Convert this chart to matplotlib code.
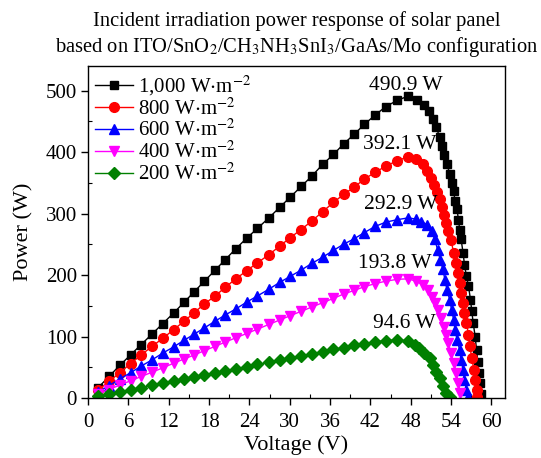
import matplotlib
matplotlib.use("Agg")
import matplotlib.pyplot as plt
from matplotlib.ticker import MultipleLocator

plt.rcParams['font.family'] = ['Liberation Serif', 'DejaVu Serif']
plt.rcParams['mathtext.fontset'] = 'stix'

# === Data ===
# shared voltage grid for the rising part of every curve (V)
v_rise = [1.5, 3.1, 4.7, 6.3, 7.9, 9.5, 11.1, 12.7, 14.3, 15.8, 17.3, 18.9, 20.4, 22.0, 23.6,
          25.2, 26.9, 28.5, 30.1, 31.7, 33.3, 34.9, 36.5, 38.0, 39.6, 41.1, 42.7, 44.3, 46.0, 47.6]

p1000_rise = [17, 35, 53, 70, 87, 104, 121, 138, 156, 173, 190, 208, 225, 243, 260,
              276, 293, 310, 327, 344, 361, 380, 396, 413, 429, 445, 460, 474, 484, 490.9]
v1000_fall = [48.9, 50.0, 50.7, 51.3, 51.8, 52.3, 52.6, 53.0, 53.4, 53.8, 54.1, 54.4, 54.6, 54.9, 55.1,
              55.3, 55.5, 55.8, 56.0, 56.3, 56.6, 56.9, 57.1, 57.3, 57.6, 57.8, 58.0, 58.1, 58.3, 58.4]
p1000_fall = [485, 477, 467, 453, 440, 425, 410, 395, 380, 365, 350, 336, 320, 307, 290,
              274, 258, 236, 217, 198, 182, 160, 141, 122, 100, 78, 59, 40, 24, 6]

p800_rise = [13, 27, 41, 56, 70, 84, 97, 111, 125, 139, 153, 166, 180, 194, 207,
             220, 233, 247, 261, 274, 288, 303, 318, 331, 343, 356, 367, 377, 386, 392.1]
v800_fall = [48.8, 49.8, 50.5, 51.0, 51.5, 51.9, 52.3, 52.6, 52.9, 53.3, 53.6, 54.0, 54.4, 54.8,
             55.0, 55.3, 55.5, 55.8, 56.0, 56.3, 56.6, 56.8, 57.1, 57.4, 57.6, 57.8, 57.9]
p800_fall = [388, 380, 369, 358, 347, 335, 323, 310, 297, 285, 271, 257, 236, 220,
             203, 187, 171, 155, 138, 122, 103, 84, 65, 46, 29, 13, 2]

p600_rise = [10, 20, 31, 41, 52, 62, 73, 83, 94, 104, 114, 125, 135, 145, 156,
             166, 177, 188, 198, 208, 219, 229, 240, 250, 259, 269, 279, 286, 290, 292.9]
v600_fall = [48.8, 49.6, 50.4, 51.1, 51.6, 52.0, 52.4, 52.8, 53.1, 53.4, 53.8, 54.1, 54.4, 54.6,
             54.9, 55.3, 55.5, 55.8, 56.0, 56.3, 56.6]
p600_fall = [291, 287, 282, 271, 258, 241, 225, 209, 192, 176, 160, 143, 127, 111,
             95, 78, 62, 46, 29, 13, 2]

p400_rise = [6.7, 13.8, 21, 28, 35, 42, 49, 56.5, 63.6, 70, 77, 84, 91, 98, 105,
             112, 119.7, 126.8, 134, 141, 148, 155, 162, 169, 175, 181, 186, 190, 193, 193.8]
v400_fall = [48.8, 49.8, 50.6, 51.1, 51.6, 52.1, 52.5, 52.9, 53.3, 53.6, 54.0, 54.4, 54.8, 55.1, 55.4]
p400_fall = [190, 184, 176, 165, 154, 143, 130, 116, 103, 89, 73, 57, 40, 24, 8]

p200_rise = [3.3, 6.7, 10.2, 13.7, 17, 20.6, 24, 27.5, 31, 34.3, 37.5, 41, 44, 47.7, 51,
             54.7, 58, 62, 65, 68.5, 72, 75.5, 79, 82, 85.5, 88.5, 91.5, 93.5, 94.6, 93]
v200_fall = [48.6, 49.3, 50.0, 50.8, 51.3, 51.8, 52.3, 52.8, 53.3, 53.8]
p200_fall = [87, 81, 73, 65, 54, 43, 32, 19, 8, 1]

labels = ['1,000 W$\\cdot$m$^{-2}$', '800 W$\\cdot$m$^{-2}$', '600 W$\\cdot$m$^{-2}$',
          '400 W$\\cdot$m$^{-2}$', '200 W$\\cdot$m$^{-2}$']
peak_text = ['490.9 W', '392.1 W', '292.9 W', '193.8 W', '94.6 W']
peak_pos = [(47.3, 509), (46.3, 413), (46.5, 315), (45.7, 219), (47.1, 121)]

series = [
    (v_rise + v1000_fall, p1000_rise + p1000_fall, 'black', 's', 5.5),
    (v_rise + v800_fall, p800_rise + p800_fall, 'red', 'o', 7),
    (v_rise + v600_fall, p600_rise + p600_fall, 'blue', '^', 7),
    (v_rise + v400_fall, p400_rise + p400_fall, 'magenta', 'v', 7),
    (v_rise + v200_fall, p200_rise + p200_fall, 'green', 'D', 6),
]

# === Plot ===
fig = plt.figure(figsize=(5.41, 4.58), dpi=100)
ax = fig.add_axes([0.163, 0.131, 0.77, 0.725])

for (v, p, c, m, ms), lab in zip(series, labels):
    ax.plot(v, p, color=c, marker=m, markersize=ms, linewidth=1, label=lab)

for txt, (x, y) in zip(peak_text, peak_pos):
    ax.text(x, y, txt, ha='center', va='center', fontsize=15.5)

ax.set_xlim(0, 62)
ax.set_ylim(0, 540)
ax.xaxis.set_major_locator(MultipleLocator(6))
ax.xaxis.set_minor_locator(MultipleLocator(3))
ax.yaxis.set_major_locator(MultipleLocator(100))
ax.yaxis.set_minor_locator(MultipleLocator(50))
ax.tick_params(which='major', direction='out', length=5, width=1, labelsize=15, pad=3)
ax.tick_params(axis='x', which='major', pad=6)
ax.tick_params(which='minor', direction='in', length=3, width=0.8)
ax.tick_params(which='both', top=False, right=False)
for s in ax.spines.values():
    s.set_linewidth(1)

ax.set_xlabel('Voltage (V)', fontsize=16, labelpad=2)
ax.set_ylabel('Power (W)', fontsize=16, labelpad=9)
ax.set_title('Incident irradiation power response of solar panel\n'
             'based on ITO/SnO$_2$/CH$_3$NH$_3$SnI$_3$/GaAs/Mo configuration',
             fontsize=14.8, pad=10, linespacing=1.25)

ax.legend(loc='upper left', frameon=False, fontsize=15, handlelength=1.8,
          handletextpad=0.25, labelspacing=0.02, borderaxespad=0.05, borderpad=0.3)

plt.savefig('out.png', dpi=100)
